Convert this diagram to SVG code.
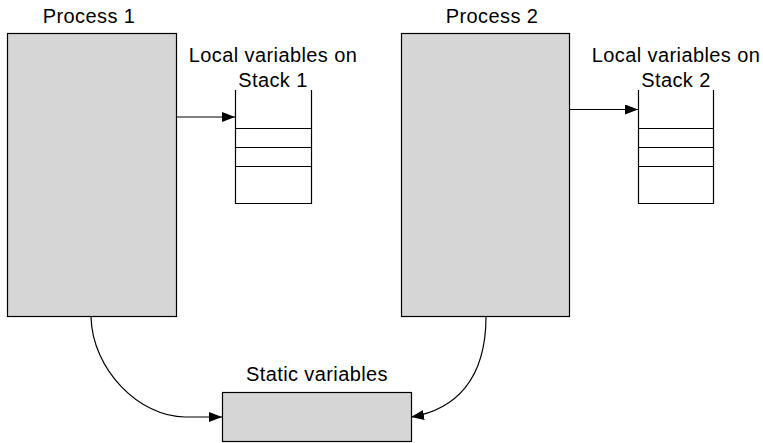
<svg xmlns="http://www.w3.org/2000/svg" width="763" height="443" viewBox="0 0 763 443">
<defs>
<marker id="ah" viewBox="0 0 13 10" refX="13" refY="5" markerWidth="13" markerHeight="10" markerUnits="userSpaceOnUse" orient="auto">
<path d="M0,0 L13,5 L0,10 z" fill="#000"/>
</marker>
<style>
text{font-family:"Liberation Sans",Arial,Helvetica,sans-serif;font-size:20px;letter-spacing:0.4px;fill:#000;text-anchor:middle}
.box{fill:#d6d6d6;stroke:#000;stroke-width:1.2}
.ln{fill:none;stroke:#000;stroke-width:1.2}
</style>
</defs>
<rect width="763" height="443" fill="#fff"/>
<g id="process1">
<text x="89" y="23">Process 1</text>
<rect class="box" x="7.5" y="33.5" width="169" height="283"/>
</g>
<g id="process2">
<text x="492" y="23">Process 2</text>
<rect class="box" x="401.5" y="33.5" width="168" height="283"/>
</g>
<g id="stack1">
<text x="273" y="62">Local variables on</text>
<text x="273" y="87">Stack 1</text>
<path class="ln" d="M235.5,90 V203.5 H311.5 V90 M235.5,128.5 H311.5 M235.5,147.5 H311.5 M235.5,166.5 H311.5"/>
</g>
<g id="stack2">
<text x="676" y="62">Local variables on</text>
<text x="676" y="87">Stack 2</text>
<path class="ln" d="M638.5,90 V203.5 H713.5 V90 M638.5,128.5 H713.5 M638.5,147.5 H713.5 M638.5,166.5 H713.5"/>
</g>
<g id="static">
<text x="317" y="381">Static variables</text>
<rect class="box" x="222.5" y="392.5" width="189" height="49"/>
</g>
<g id="connectors">
<path class="ln" d="M176.5,117 H235" marker-end="url(#ah)"/>
<path class="ln" d="M569.5,109.5 H638" marker-end="url(#ah)"/>
<path class="ln" d="M91,316.5 C92,370 140,417 185,417 H222" marker-end="url(#ah)"/>
<path class="ln" d="M486,316.5 C486,380 455,410 411,417" marker-end="url(#ah)"/>
</g>
</svg>
